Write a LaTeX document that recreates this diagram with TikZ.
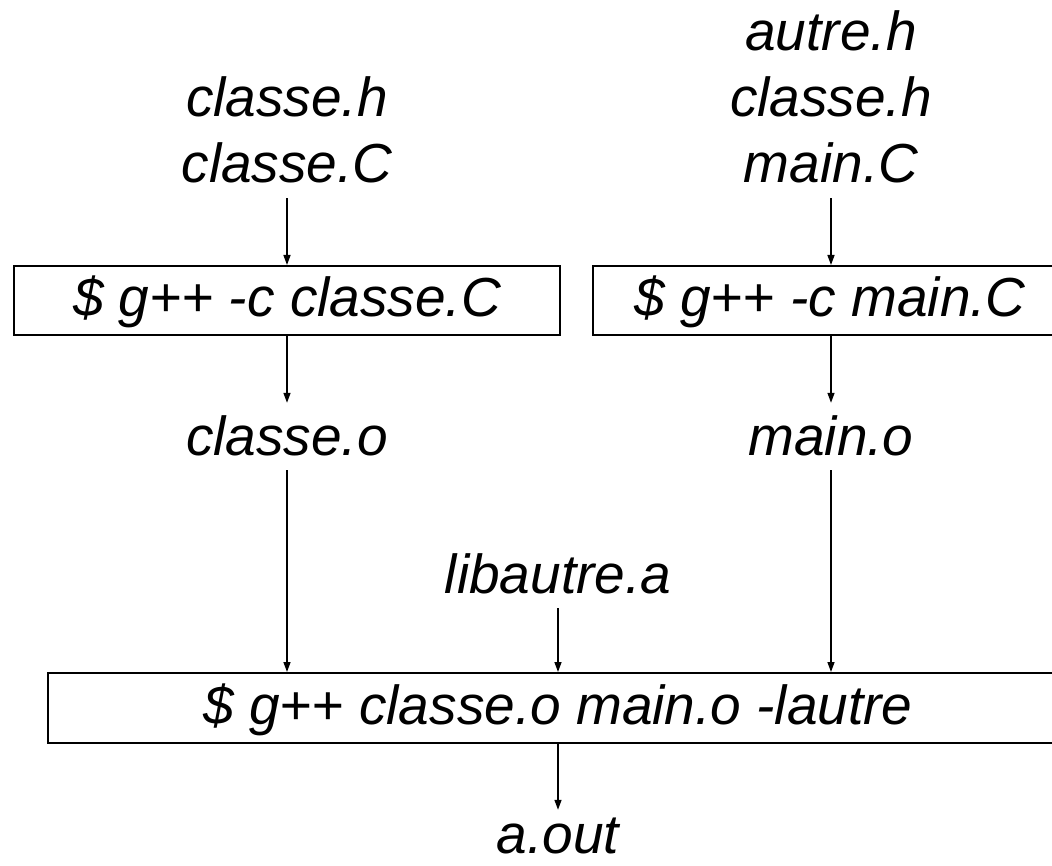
\documentclass[tikz,border=0pt]{standalone}
\usepackage{fontspec}
\setmainfont{Liberation Sans}
\usetikzlibrary{arrows.meta}
\tikzset{
  lbl/.style={inner sep=0pt, anchor=base, text height=40pt, text depth=15pt,
    font=\itshape\fontsize{55}{66}\selectfont},
  cmd/.style={draw, line width=2pt, inner sep=0pt, text height=40pt, text depth=7pt,
    font=\itshape\fontsize{55}{66}\selectfont},
  flow/.style={line width=1.4pt, -{Triangle[width=7pt,length=10pt]}},
}
\begin{document}
\begin{tikzpicture}[x=1pt,y=-1pt]
\useasboundingbox (0,0) rectangle (1052,866);
\clip (0,0) rectangle (1052,866);
% left column
\node[lbl] (ch1) at (287,117) {classe.h};
\node[lbl] (cC) at (287,183) {classe.C};
\node[cmd, minimum width=546pt, minimum height=69pt] (b1) at (287,300.5) {\$ g++ -c classe.C};
\node[lbl] (co) at (287,455) {classe.o};
% right column
\node[lbl] (ah) at (831,51) {autre.h};
\node[lbl] (ch2) at (831,117) {classe.h};
\node[lbl] (mC) at (831,183) {main.C};
\node[cmd, minimum width=474pt, minimum height=69pt] (b2) at (830,300.5) {\$ g++ -c main.C};
\node[lbl] (mo) at (831,455) {main.o};
% middle
\node[lbl] (lib) at (558,593) {libautre.a};
\node[cmd, minimum width=1020pt, minimum height=70pt] (b3) at (558,708) {\$ g++ classe.o main.o -lautre};
\node[lbl] (aout) at (558,853) {a.out};
% connectors
\draw[flow] (cC.south) -- (b1.north);
\draw[flow, shorten >=12pt] (b1.south) -- (co.north);
\draw[flow] (mC.south) -- (mC.south |- b2.north);
\draw[flow, shorten >=12pt] (mC.south |- b2.south) -- (mo.north);
\draw[flow] (co.south) -- (co.south |- b3.north);
\draw[flow] (mo.south) -- (mo.south |- b3.north);
\draw[flow] (lib.south) -- (b3.north);
\draw[flow, shorten >=3pt] (b3.south) -- (aout.north);
\end{tikzpicture}
\end{document}
